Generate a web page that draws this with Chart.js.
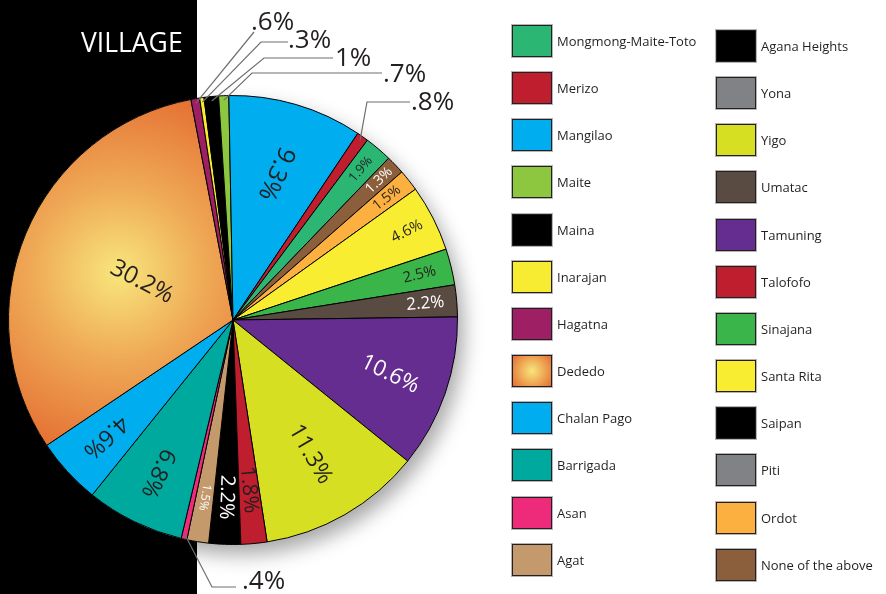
<!DOCTYPE html>
<html lang="en">
<head>
<meta charset="UTF-8">
<title>Village</title>
<script src="https://cdn.jsdelivr.net/npm/chart.js"></script>
<style>
  body { margin: 0; background: #fff; font-family: 'Open Sans', sans-serif; }
  #wrap { position: relative; width: 886px; height: 594px; overflow: hidden; }
  #pie { position: absolute; left: 0; top: 0; }
  .key { position: absolute; display: flex; align-items: center; height: 32px; font-size: 13px; color: #231f20; white-space: nowrap; }
  .key .box { width: 38px; height: 30px; border: 1px solid #231f20; margin-right: 5px; box-shadow: 0 0 0 1px #b5b5b5; }
</style>
</head>
<body>
<div id="wrap">
  <canvas id="pie" width="886" height="594"></canvas>
</div>
<script>
// slices in drawing order, clockwise from just right of the bottom
const villages = ['Agana Heights', 'Agat', 'Asan', 'Barrigada', 'Chalan Pago', 'Dededo', 'Hagatna',
  'Inarajan', 'Maina', 'Maite', 'Mangilao', 'Merizo', 'Mongmong-Maite-Toto', 'None of the above',
  'Ordot', 'Piti', 'Saipan', 'Santa Rita', 'Sinajana', 'Umatac', 'Tamuning', 'Yigo', 'Yona', 'Talofofo'];
const shares = [2.2, 1.5, 0.4, 6.8, 4.6, 30.2, 0.6,
  0.3, 1, 0.7, 9.3, 0.8, 1.9, 1.3,
  1.5, 0, 0, 4.6, 2.5, 2.2, 10.6, 11.3, 0, 1.8];
const sliceColors = ['#000000', '#c49a6c', '#ee2a7b', '#00a99d', '#00aeef', '#e46e32', '#9e1f63',
  '#f7ec31', '#000000', '#8dc63f', '#00aeef', '#be1e2d', '#2bb673', '#8b5e3c',
  '#fbb040', '#808285', '#000000', '#f9ed32', '#39b54a', '#594a42', '#662d91', '#d7df23', '#808285', '#be1e2d'];

// key order, first twelve in the left column
const legendOrder = ['Mongmong-Maite-Toto', 'Merizo', 'Mangilao', 'Maite', 'Maina', 'Inarajan',
  'Hagatna', 'Dededo', 'Chalan Pago', 'Barrigada', 'Asan', 'Agat',
  'Agana Heights', 'Yona', 'Yigo', 'Umatac', 'Tamuning', 'Talofofo',
  'Sinajana', 'Santa Rita', 'Saipan', 'Piti', 'Ordot', 'None of the above'];

// percent written inside the slice: size, radius fraction, white text,
// read toward the centre, extra turn in degrees
const insideStyle = {
  'Dededo': { size: 24, r: 0.44, flip: true, turn: 5 },
  'Mangilao': { size: 25, r: 0.68, flip: true, turn: 8 },
  'Mongmong-Maite-Toto': { size: 13, r: 0.88 },
  'None of the above': { size: 14, r: 0.9, white: true },
  'Ordot': { size: 14, r: 0.875 },
  'Santa Rita': { size: 15, r: 0.87 },
  'Sinajana': { size: 15, r: 0.855 },
  'Umatac': { size: 17, r: 0.86, white: true },
  'Tamuning': { size: 22, r: 0.74, white: true, turn: 7 },
  'Yigo': { size: 23, r: 0.69 },
  'Talofofo': { size: 21, r: 0.76 },
  'Agana Heights': { size: 20, r: 0.79, white: true },
  'Agat': { size: 12, r: 0.8, white: true },
  'Barrigada': { size: 23, r: 0.76 },
  'Chalan Pago': { size: 23, r: 0.77 }
};

// thin slices labelled outside: text position and the bend of the leader line
const leaderStyle = {
  'Hagatna': { x: 251, y: 30, pts: [[254, 32]] },
  'Inarajan': { x: 288, y: 48, pts: [[288, 42], [261, 42]] },
  'Maina': { x: 335, y: 66, pts: [[333, 58], [264, 58]] },
  'Maite': { x: 383, y: 82, pts: [[382, 73], [252, 73]] },
  'Merizo': { x: 411, y: 110, pts: [[410, 102], [367, 102]] },
  'Asan': { x: 242, y: 589, pts: [[236, 587], [212, 587]] }
};

const FONT = '"Open Sans", sans-serif';

function sliceFill(ctx) {
  const i = ctx.dataIndex;
  if (villages[i] !== 'Dededo') return sliceColors[i];
  const a = ctx.chart.chartArea;
  if (!a) return sliceColors[i];
  const r = Math.min(a.right - a.left, a.bottom - a.top) / 2;
  const gx = (a.left + a.right) / 2 - 0.51 * r;
  const gy = (a.top + a.bottom) / 2 - 0.21 * r;
  const g = ctx.chart.ctx.createRadialGradient(gx, gy, 0, gx, gy, 0.85 * r);
  g.addColorStop(0, '#f8e67c');
  g.addColorStop(0.45, '#efaa56');
  g.addColorStop(1, '#e46e32');
  return g;
}

const panel = {
  id: 'panel',
  beforeDraw(chart) {
    const c = chart.ctx;
    c.save();
    c.fillStyle = '#000';
    c.fillRect(0, 0, 197, chart.height);
    c.fillStyle = '#fff';
    c.font = '26.5px ' + FONT;
    c.textBaseline = 'alphabetic';
    c.fillText('VILLAGE', 81, 52);
    c.restore();
  },
  beforeDatasetsDraw(chart) {
    // soft shadow under the pie
    const arc = chart.getDatasetMeta(0).data[0];
    const c = chart.ctx;
    c.save();
    c.shadowColor = 'rgba(0,0,0,0.35)';
    c.shadowBlur = 20;
    c.shadowOffsetX = 6;
    c.shadowOffsetY = 10;
    c.beginPath();
    c.arc(arc.x, arc.y, arc.outerRadius, 0, Math.PI * 2);
    c.fillStyle = '#fff';
    c.fill();
    c.restore();
  }
};

const sliceText = {
  id: 'sliceText',
  afterDatasetsDraw(chart) {
    const c = chart.ctx;
    chart.getDatasetMeta(0).data.forEach((arc, i) => {
      const name = villages[i];
      const mid = (arc.startAngle + arc.endAngle) / 2;
      const s = insideStyle[name];
      if (s) {
        const r = arc.outerRadius * s.r;
        c.save();
        c.translate(arc.x + Math.cos(mid) * r, arc.y + Math.sin(mid) * r);
        c.rotate((s.flip ? mid + Math.PI : mid) + (s.turn || 0) * Math.PI / 180);
        c.font = s.size + 'px ' + FONT;
        c.fillStyle = s.white ? '#fff' : '#231f20';
        c.textAlign = 'center';
        c.textBaseline = 'middle';
        c.fillText(shares[i].toFixed(1) + '%', 0, 0);
        c.restore();
      }
      const l = leaderStyle[name];
      if (l) {
        const r = arc.outerRadius * 0.98;
        c.save();
        c.strokeStyle = '#6d6e71';
        c.lineWidth = 1.2;
        c.beginPath();
        c.moveTo(l.pts[0][0], l.pts[0][1]);
        l.pts.slice(1).forEach(p => c.lineTo(p[0], p[1]));
        c.lineTo(arc.x + Math.cos(mid) * r, arc.y + Math.sin(mid) * r);
        c.stroke();
        c.font = '26px ' + FONT;
        c.fillStyle = '#231f20';
        c.textBaseline = 'alphabetic';
        c.fillText(String(shares[i]).replace(/^0/, '') + '%', l.x, l.y);
        c.restore();
      }
    });
  }
};

new Chart(document.getElementById('pie'), {
  type: 'pie',
  data: {
    labels: villages,
    datasets: [{
      data: shares,
      backgroundColor: sliceFill,
      borderColor: '#000',
      borderWidth: ctx => (ctx.raw ? 1 : 0)
    }]
  },
  options: {
    responsive: false,
    animation: false,
    events: [],
    rotation: 178,
    layout: { padding: { left: 8, top: 95, right: 428, bottom: 49 } },
    plugins: { legend: { display: false }, tooltip: { enabled: false } }
  },
  plugins: [panel, sliceText]
});

// colour key
const wrap = document.getElementById('wrap');
legendOrder.forEach((name, k) => {
  const col = k < 12 ? 0 : 1;
  const row = k % 12;
  const el = document.createElement('div');
  el.className = 'key';
  el.style.left = (col ? 716 : 512) + 'px';
  el.style.top = ((col ? 30 : 25) + row * 47.15) + 'px';
  const box = document.createElement('span');
  box.className = 'box';
  box.style.background = name === 'Dededo'
    ? 'radial-gradient(circle, #f8e67c 0%, #efaa56 50%, #e46e32 100%)'
    : sliceColors[villages.indexOf(name)];
  const txt = document.createElement('span');
  txt.innerText = name;
  el.appendChild(box);
  el.appendChild(txt);
  wrap.appendChild(el);
});
</script>
</body>
</html>
